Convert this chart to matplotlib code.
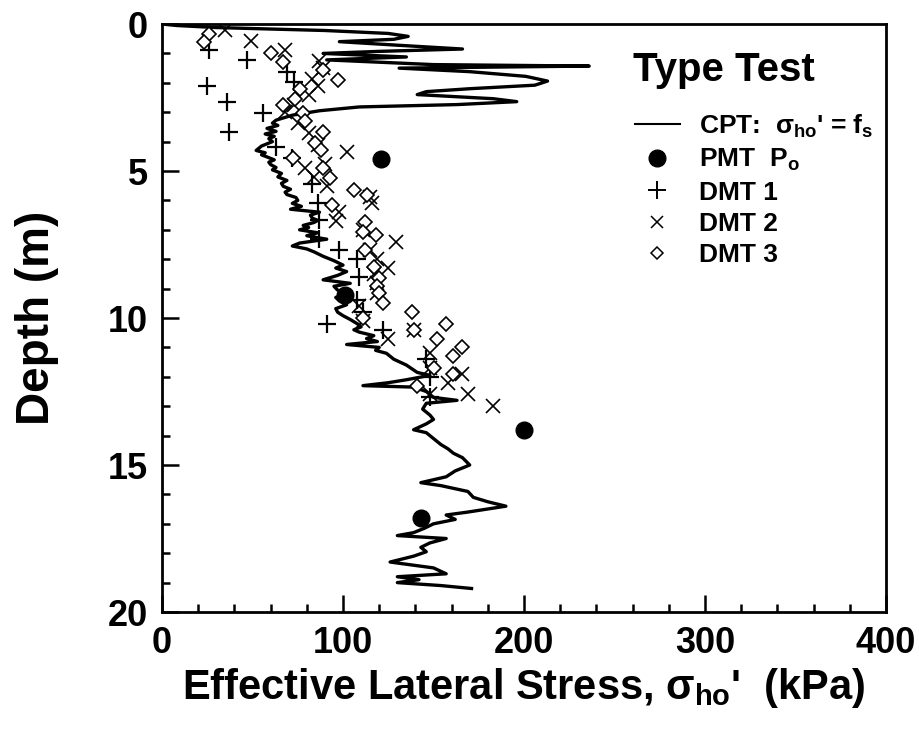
import numpy as np
import matplotlib
matplotlib.use("Agg")
from matplotlib import pyplot as plt
from matplotlib.lines import Line2D

plt.rcParams['font.family'] = ['Liberation Sans', 'DejaVu Sans']
plt.rcParams['font.weight'] = 'bold'
plt.rcParams['mathtext.fontset'] = 'custom'
plt.rcParams['mathtext.rm'] = 'Liberation Sans:bold'
plt.rcParams['mathtext.it'] = 'Liberation Sans:bold'
plt.rcParams['mathtext.bf'] = 'Liberation Sans:bold'
plt.rcParams['mathtext.sf'] = 'Liberation Sans:bold'

# CPT profile (sigma_ho' = fs), kPa vs depth m
cpt_stress = [0, 8, 30, 90, 125, 136, 128, 98, 130, 166, 120, 89,
              135, 91, 150, 236, 131, 170, 201, 213, 206, 170, 146, 141,
              183, 196, 163, 109, 87, 72, 63, 61, 64, 58, 63, 57, 62, 59,
              61, 55, 52, 57, 55, 58, 62, 59, 60, 63, 61, 66, 64, 69, 66,
              67, 71, 68, 69, 74, 75, 72, 77, 71, 87, 82, 83, 86, 84, 78,
              81, 76, 86, 80, 91, 76, 72, 80, 84, 89, 95, 100, 96, 102, 97,
              89, 104, 95, 97, 102, 96, 98, 102, 96, 97, 100, 104, 108, 110,
              106, 109, 117, 113, 119, 102, 120, 118, 124, 128, 135, 141, 148,
              135, 125, 111, 139, 146, 150, 163, 146, 144, 148, 150, 146, 139,
              146, 150, 154, 158, 161, 166, 170, 162, 157, 143, 154, 169, 172,
              180, 190, 169, 157, 162, 150, 145, 139, 130, 157, 148, 143, 146,
              139, 126, 150, 157, 130, 142, 130, 154, 171]
cpt_depth = [0, 0.05, 0.12, 0.22, 0.32, 0.42, 0.52, 0.6, 0.72, 0.85, 0.93, 1.0,
             1.12, 1.22, 1.38, 1.43, 1.5, 1.62, 1.78, 1.94, 2.08, 2.2, 2.3, 2.4,
             2.54, 2.64, 2.74, 2.82, 2.95, 3.1, 3.27, 3.37, 3.45, 3.55, 3.65, 3.74,
             3.82, 3.9, 4.0, 4.15, 4.3, 4.38, 4.45, 4.52, 4.62, 4.7, 4.78, 4.88,
             4.96, 5.08, 5.2, 5.32, 5.42, 5.52, 5.62, 5.72, 5.8, 5.9, 6.0, 6.1,
             6.2, 6.3, 6.4, 6.5, 6.6, 6.68, 6.75, 6.85, 6.92, 7.0, 7.1, 7.2,
             7.32, 7.45, 7.55, 7.65, 7.75, 7.9, 8.05, 8.2, 8.3, 8.42, 8.55, 8.7,
             8.82, 8.92, 9.05, 9.15, 9.3, 9.42, 9.55, 9.68, 9.8, 9.92, 10.05,
             10.2, 10.3, 10.4, 10.48, 10.6, 10.7, 10.8, 10.9, 11.0, 11.1, 11.2,
             11.4, 11.6, 11.85, 11.95, 12.1, 12.2, 12.3, 12.35, 12.5, 12.7, 12.8,
             12.9, 13.1, 13.3, 13.45, 13.6, 13.8, 13.9, 14.1, 14.3, 14.45, 14.6,
             14.75, 15.0, 15.2, 15.4, 15.6, 15.7, 15.9, 16.1, 16.25, 16.4, 16.6,
             16.7, 16.85, 17.0, 17.15, 17.3, 17.4, 17.5, 17.65, 17.8, 17.95,
             18.1, 18.3, 18.5, 18.7, 18.8, 18.9, 19.0, 19.1, 19.2]

# PMT P0
pmt_stress = [121, 101, 200, 143]
pmt_depth = [4.6, 9.2, 13.8, 16.8]

# DMT 1
dmt1_stress = [26, 47, 69, 73, 25, 36, 56, 37, 63, 72, 83, 86, 87, 87, 98, 108,
               109, 108, 111, 91, 122, 146, 148, 148]
dmt1_depth = [0.9, 1.22, 1.62, 1.97, 2.1, 2.65, 3.04, 3.66, 4.17, 4.57, 5.45, 6.1,
              6.67, 7.3, 7.7, 8.0, 8.6, 9.4, 9.8, 10.2, 10.4, 11.4, 12.0, 12.7]

# DMT 2
dmt2_stress = [35, 49, 68, 87, 89, 83, 86, 81, 73, 68, 75, 81, 86, 102, 90, 79,
               84, 91, 115, 116, 98, 96, 111, 129, 115, 119, 125, 117, 119, 119,
               109, 111, 139, 125, 148, 148, 166, 158, 169, 148, 183]
dmt2_depth = [0.2, 0.57, 0.9, 1.25, 1.5, 1.87, 2.1, 2.42, 2.75, 3.0, 3.35, 3.72,
              4.1, 4.35, 4.75, 4.9, 5.2, 5.5, 5.87, 6.1, 6.4, 6.7, 7.0, 7.4, 7.7,
              8.0, 8.3, 8.5, 8.8, 9.15, 9.6, 10.1, 10.4, 10.7, 11.2, 11.7, 11.9,
              12.2, 12.6, 12.6, 13.0]

# DMT 3
dmt3_stress = [26, 23, 60, 67, 89, 97, 76, 73.5, 67, 78, 79, 89, 84.5, 88, 72.5,
               89, 93, 106, 113, 94, 112, 111, 118, 112, 117, 120, 119, 120, 122,
               138, 111, 157, 139, 152, 166, 161, 150, 161, 141]
dmt3_depth = [0.33, 0.62, 0.98, 1.3, 1.58, 1.9, 2.2, 2.55, 2.75, 3.03, 3.3, 3.67,
              4.06, 4.3, 4.57, 4.9, 5.25, 5.65, 5.8, 6.15, 6.73, 7.07, 7.18, 7.7,
              8.25, 8.64, 8.9, 9.16, 9.5, 9.8, 10.0, 10.2, 10.4, 10.7, 11.0, 11.3,
              11.7, 11.9, 12.3]

fig = plt.figure(figsize=(9.19, 7.44), dpi=100)
ax = fig.add_axes([0.1763, 0.1774, 0.7878, 0.7903])

ax.plot(cpt_stress, cpt_depth, color='black', lw=2.4)
ax.plot(pmt_stress, pmt_depth, 'o', color='black', ms=12, ls='none')
ax.plot(dmt1_stress, dmt1_depth, '+', color='black', ms=13, mew=1.6, ls='none')
ax.plot(dmt2_stress, dmt2_depth, 'x', color='black', ms=10, mew=1.2, ls='none')
ax.plot(dmt3_stress, dmt3_depth, 'D', mfc='white', mec='black', ms=7.5, mew=1.2, ls='none')

ax.set_xlim(0, 400)
ax.set_ylim(20, 0)
ax.set_xticks([0, 100, 200, 300, 400])
ax.set_xticks(np.arange(0, 401, 20), minor=True)
ax.set_yticks([0, 5, 10, 15, 20])
ax.set_yticks(np.arange(0, 21, 1), minor=True)
ax.tick_params(which='both', direction='in', width=1.8, labelsize=26, pad=10)
ax.tick_params(which='major', length=12)
ax.tick_params(which='minor', length=6)
for s in ax.spines.values():
    s.set_linewidth(2)

ax.set_xlabel(r"Effective Lateral Stress, $\sigma_{\rm ho}$'  (kPa)", fontsize=30, fontweight='bold')
ax.set_ylabel('Depth (m)', fontsize=33, fontweight='bold')
ax.xaxis.set_label_coords(0.5, -0.092)
ax.yaxis.set_label_coords(-0.142, 0.5)

ax.text(0.65, 0.922, 'Type Test', transform=ax.transAxes, fontsize=29,
        fontweight='bold', ha='left', va='center')

handles = [
    Line2D([], [], color='black', lw=1.5),
    Line2D([], [], marker='o', color='black', ls='none', ms=12),
    Line2D([], [], marker='+', color='black', ls='none', ms=13, mew=1.4),
    Line2D([], [], marker='x', color='black', ls='none', ms=9, mew=1.1),
    Line2D([], [], marker='D', mfc='white', mec='black', ls='none', ms=6.5, mew=1.1),
]
labels = [r"CPT:  $\sigma_{\rm ho}$' = f$_{\rm s}$", r"PMT  P$_{\rm o}$",
          'DMT 1', 'DMT 2', 'DMT 3']
leg = ax.legend(handles, labels, loc='upper left',
                bbox_to_anchor=(0.62, 0.89), frameon=False, fontsize=19,
                handlelength=1.7, handletextpad=0.75, labelspacing=0.28)

fig.savefig('out.png', dpi=100)
